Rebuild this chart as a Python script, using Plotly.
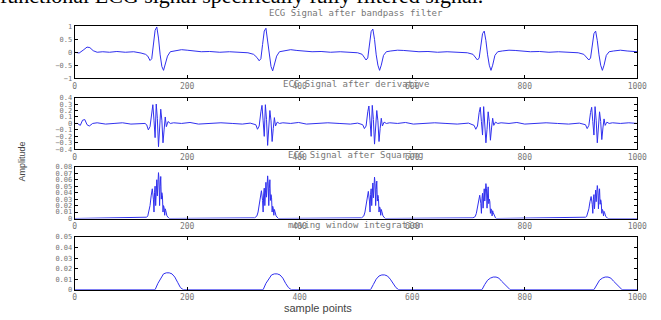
import plotly.graph_objects as go

# ---------------- data ----------------
tick_x = [0, 200, 400, 600, 800, 1000]

titles = ["ECG Signal after bandpass filter", "ECG Signal after derivative",
          "ECG Signal after Squaring", "moving window integration"]

# Panel 1: band-pass filtered ECG
bp_x = [0, 8, 15, 22, 27, 33, 40, 50, 62, 75, 90, 105, 118, 126,
        130, 134, 137, 140, 143, 146, 149, 152, 155, 158, 161, 165, 170,
        178, 190, 200, 212, 225, 240, 258, 275, 292, 308, 318,
        324, 328, 331, 334, 337, 340, 343, 346, 349, 352, 355, 359, 364,
        372, 384, 395, 408, 422, 438, 455, 472, 490, 503, 511,
        514, 518, 521, 524, 527, 530, 533, 536, 539, 542, 545, 549, 554,
        562, 574, 585, 598, 612, 628, 645, 662, 680, 698, 708,
        712, 716, 719, 722, 725, 728, 731, 734, 737, 740, 743, 747, 752,
        760, 772, 783, 796, 810, 826, 843, 860, 878, 895, 905,
        910, 914, 917, 920, 923, 926, 929, 932, 935, 938, 941, 945, 950,
        958, 970, 982, 1000]
bp_y = [0.0, -0.03, 0.08, 0.2, 0.18, 0.06, 0.0, 0.02, 0.0, 0.03, 0.0, 0.02, -0.03, -0.08,
        -0.15, -0.32, -0.25, 0.3, 0.85, 0.98, 0.55, -0.1, -0.55, -0.7, -0.5, -0.15, 0.02,
        0.05, 0.1, 0.08, 0.05, 0.02, 0.03, 0.0, 0.02, 0.0, -0.02, -0.08,
        -0.2, -0.33, -0.25, 0.3, 0.82, 0.93, 0.5, -0.1, -0.55, -0.72, -0.5, -0.15, 0.02,
        0.05, 0.1, 0.07, 0.04, 0.02, 0.03, 0.0, 0.02, 0.0, -0.02, -0.08,
        -0.18, -0.3, -0.22, 0.3, 0.8, 0.9, 0.5, -0.1, -0.5, -0.7, -0.5, -0.12, 0.02,
        0.05, 0.08, 0.07, 0.04, 0.02, 0.03, 0.0, 0.02, 0.0, -0.02, -0.08,
        -0.18, -0.3, -0.22, 0.28, 0.72, 0.82, 0.45, -0.1, -0.5, -0.7, -0.5, -0.12, 0.02,
        0.05, 0.08, 0.07, 0.04, 0.02, 0.03, 0.0, 0.02, 0.0, -0.02, -0.08,
        -0.2, -0.3, -0.22, 0.28, 0.72, 0.82, 0.45, -0.1, -0.5, -0.7, -0.5, -0.12, 0.02,
        0.05, 0.08, 0.05, 0.02]

# Panel 2: derivative
dv_x = [0, 5, 10, 14, 18, 22, 26, 32, 40, 55, 70, 85, 100, 115, 125,
        128, 131, 134, 137, 139, 141, 143, 145, 147, 149, 151, 153, 155, 157, 159, 161, 163, 166, 170,
        176, 190, 205, 220, 240, 260, 280, 298, 312, 318,
        322, 325, 328, 331, 333, 335, 337, 339, 341, 343, 345, 347, 349, 351, 353, 355, 357, 360, 364,
        370, 384, 398, 412, 430, 450, 470, 490, 503, 509,
        512, 515, 518, 521, 523, 525, 527, 529, 531, 533, 535, 537, 539, 541, 543, 545, 547, 550, 554,
        560, 574, 588, 602, 620, 640, 660, 680, 700, 706,
        710, 713, 716, 719, 721, 723, 725, 727, 729, 731, 733, 735, 737, 739, 741, 743, 745, 748, 752,
        758, 772, 786, 800, 818, 838, 858, 878, 897, 903,
        908, 911, 914, 917, 919, 921, 923, 925, 927, 929, 931, 933, 935, 937, 939, 941, 943, 946, 950,
        956, 970, 985, 1000]
dv_y = [0.0, 0.0, -0.03, 0.05, 0.06, -0.02, -0.04, 0.0, 0.01, -0.01, 0.0, 0.01, -0.01, 0.0, 0.0,
        -0.02, -0.1, -0.05, 0.2, 0.29, 0.05, -0.22, 0.3, 0.08, -0.36, -0.12, 0.22, 0.05, -0.3, -0.1, 0.1, -0.05, 0.03, 0.0,
        0.01, 0.0, 0.015, -0.01, 0.0, 0.01, 0.0, -0.01, 0.005, -0.01,
        -0.02, -0.09, -0.04, 0.18, 0.28, 0.04, -0.2, 0.29, 0.06, -0.34, -0.1, 0.2, 0.04, -0.28, -0.08, 0.09, -0.04, 0.02, 0.0,
        0.01, 0.0, 0.015, -0.01, 0.0, 0.01, 0.0, -0.01, 0.005, -0.01,
        -0.02, -0.08, -0.04, 0.18, 0.27, 0.04, -0.2, 0.28, 0.06, -0.32, -0.1, 0.2, 0.04, -0.28, -0.08, 0.08, -0.04, 0.02, 0.0,
        0.01, 0.0, 0.015, -0.01, 0.0, 0.01, 0.0, -0.01, 0.005, -0.01,
        -0.03, -0.09, -0.04, 0.17, 0.25, 0.03, -0.18, 0.26, 0.05, -0.3, -0.09, 0.18, 0.03, -0.26, -0.07, 0.08, -0.03, 0.02, 0.0,
        0.01, 0.0, 0.015, -0.01, 0.0, 0.01, 0.0, -0.01, 0.005, -0.01,
        -0.02, -0.08, -0.03, 0.17, 0.25, 0.03, -0.18, 0.26, 0.05, -0.3, -0.09, 0.18, 0.03, -0.25, -0.07, 0.07, -0.03, 0.02, 0.0,
        0.01, 0.0, 0.01, 0.0]

# Panel 3: squaring
sq_x = [0,
        126, 128, 130, 132, 134, 136, 138, 140, 141, 142, 143, 144, 145, 146, 147, 148, 149, 150, 151, 152, 153, 154, 155, 156, 157, 158, 159, 160, 161, 162, 164, 166, 168,
        320, 322, 324, 326, 328, 330, 332, 334, 335, 336, 337, 338, 339, 340, 341, 342, 343, 344, 345, 346, 347, 348, 349, 350, 351, 352, 353, 354, 355, 356, 358, 360, 362,
        510, 512, 514, 516, 518, 520, 522, 524, 525, 526, 527, 528, 529, 530, 531, 532, 533, 534, 535, 536, 537, 538, 539, 540, 541, 542, 543, 544, 545, 546, 548, 550, 552,
        708, 710, 712, 714, 716, 718, 720, 722, 723, 724, 725, 726, 727, 728, 729, 730, 731, 732, 733, 734, 735, 736, 737, 738, 739, 740, 741, 742, 743, 744, 746, 748, 750,
        906, 908, 910, 912, 914, 916, 918, 920, 921, 922, 923, 924, 925, 926, 927, 928, 929, 930, 931, 932, 933, 934, 935, 936, 937, 938, 939, 940, 941, 942, 944, 946, 948,
        1000]
sq_y = [0.0,
        0.001, 0.002, 0.004, 0.01, 0.02, 0.035, 0.046, 0.03, 0.01, 0.04, 0.05, 0.02, 0.045, 0.06, 0.035, 0.055, 0.071, 0.06, 0.02, 0.05, 0.065, 0.03, 0.04, 0.035, 0.01, 0.02, 0.017, 0.005, 0.015, 0.012, 0.004, 0.002, 0.0,
        0.001, 0.002, 0.004, 0.01, 0.02, 0.033, 0.043, 0.028, 0.01, 0.038, 0.047, 0.02, 0.042, 0.056, 0.033, 0.05, 0.066, 0.055, 0.02, 0.046, 0.06, 0.028, 0.037, 0.032, 0.01, 0.019, 0.016, 0.005, 0.014, 0.011, 0.004, 0.002, 0.0,
        0.001, 0.002, 0.004, 0.01, 0.019, 0.032, 0.042, 0.027, 0.01, 0.037, 0.046, 0.02, 0.041, 0.055, 0.032, 0.05, 0.064, 0.054, 0.02, 0.045, 0.058, 0.027, 0.036, 0.031, 0.01, 0.018, 0.016, 0.005, 0.014, 0.011, 0.004, 0.002, 0.0,
        0.001, 0.002, 0.003, 0.008, 0.016, 0.027, 0.036, 0.023, 0.008, 0.031, 0.039, 0.016, 0.035, 0.046, 0.027, 0.042, 0.054, 0.046, 0.016, 0.038, 0.049, 0.023, 0.03, 0.026, 0.008, 0.015, 0.013, 0.004, 0.012, 0.009, 0.003, 0.001, 0.0,
        0.001, 0.002, 0.003, 0.008, 0.015, 0.026, 0.034, 0.022, 0.008, 0.03, 0.037, 0.015, 0.033, 0.044, 0.026, 0.04, 0.051, 0.044, 0.015, 0.036, 0.046, 0.022, 0.029, 0.025, 0.008, 0.014, 0.012, 0.004, 0.011, 0.009, 0.003, 0.001, 0.0,
        0.0]

# Panel 4: moving window integration
mw_x = [0,
        143, 148, 153, 158, 163, 168, 173, 178, 183, 188, 193,
        335, 340, 345, 350, 355, 360, 365, 370, 375, 380, 385,
        526, 531, 536, 541, 546, 551, 556, 561, 566, 571, 576,
        724, 729, 734, 739, 744, 749, 754, 759, 764, 769, 774,
        923, 928, 933, 938, 943, 948, 953, 958, 963, 968, 973,
        1000]
mw_y = [0.0,
        0.0, 0.006, 0.011, 0.015, 0.016, 0.016, 0.015, 0.012, 0.007, 0.002, 0.0,
        0.0, 0.006, 0.010, 0.014, 0.015, 0.015, 0.014, 0.011, 0.006, 0.002, 0.0,
        0.0, 0.005, 0.010, 0.013, 0.014, 0.014, 0.013, 0.010, 0.006, 0.002, 0.0,
        0.0, 0.005, 0.009, 0.011, 0.012, 0.012, 0.011, 0.008, 0.005, 0.002, 0.0,
        0.0, 0.005, 0.009, 0.011, 0.012, 0.012, 0.011, 0.008, 0.005, 0.002, 0.0,
        0.0]

y_ranges = [[-1, 1], [-0.4, 0.4], [0, 0.08], [0, 0.05]]
y_ticks = [[-1, -0.5, 0, 0.5, 1],
           [-0.4, -0.3, -0.2, -0.1, 0, 0.1, 0.2, 0.3, 0.4],
           [0, 0.01, 0.02, 0.03, 0.04, 0.05, 0.06, 0.07, 0.08],
           [0, 0.01, 0.02, 0.03, 0.04, 0.05]]

page_text = "functional ECG signal specifically fully filtered signal."

# ---------------- figure ----------------
W, H = 661, 320
series = [(bp_x, bp_y), (dv_x, dv_y), (sq_x, sq_y), (mw_x, mw_y)]
rows_px = [(23, 76), (96, 149), (167, 220), (239, 293)]
x_dom = [74 / W, 647 / W]
title_px = [9, 82, 155, 227]

fig = go.Figure()
x_tick_font = dict(family="DejaVu Sans Mono", size=8, color="#777777")
y_tick_font = dict(family="DejaVu Sans Mono", size=7, color="#777777")
line_color = "#3030ee"

for i, ((xs, ys), (top, bot)) in enumerate(zip(series, rows_px)):
    n = "" if i == 0 else str(i + 1)
    fig.add_trace(go.Scatter(x=xs, y=ys, mode="lines",
                             line=dict(color=line_color, width=1),
                             xaxis="x" + n, yaxis="y" + n, showlegend=False,
                             hoverinfo="skip"))
    common = dict(showline=True, linecolor="black", linewidth=1, mirror="ticks",
                  ticks="inside", ticklen=3, tickcolor="black",
                  showgrid=False, zeroline=False)
    fig.layout["xaxis" + n] = dict(domain=x_dom, range=[0, 1000], tickvals=tick_x,
                                   anchor="y" + n, tickfont=x_tick_font, **common)
    fig.layout["yaxis" + n] = dict(domain=[1 - bot / H, 1 - top / H], range=y_ranges[i],
                                   tickvals=y_ticks[i], anchor="x" + n,
                                   tickfont=y_tick_font, **common)
    fig.add_annotation(text=titles[i], xref="paper", yref="paper",
                       x=(x_dom[0] + x_dom[1]) / 2, y=1 - title_px[i] / H,
                       xanchor="center", yanchor="middle", showarrow=False,
                       font=dict(family="DejaVu Sans Mono", size=9, color="#777777"))

fig.add_annotation(text="sample points", xref="paper", yref="paper",
                   x=322 / W, y=1 - 312 / H, xanchor="center", yanchor="middle",
                   showarrow=False, font=dict(family="Liberation Sans", size=11, color="#444444"))
fig.add_annotation(text="Amplitude", xref="paper", yref="paper",
                   x=20 / W, y=1 - 162 / H, xanchor="center", yanchor="middle",
                   textangle=-90, showarrow=False,
                   font=dict(family="Liberation Sans", size=9, color="#444444"))
# page text cut off at the top of the picture
fig.add_annotation(text=page_text,
                   xref="paper", yref="paper", x=-4 / W, y=1 + 9 / H,
                   xanchor="left", yanchor="middle", showarrow=False,
                   font=dict(family="Liberation Serif", size=22, color="black"))

fig.update_layout(width=W, height=H, margin=dict(l=0, r=0, t=0, b=0),
                  paper_bgcolor="white", plot_bgcolor="white")
fig.write_html("out.html")
